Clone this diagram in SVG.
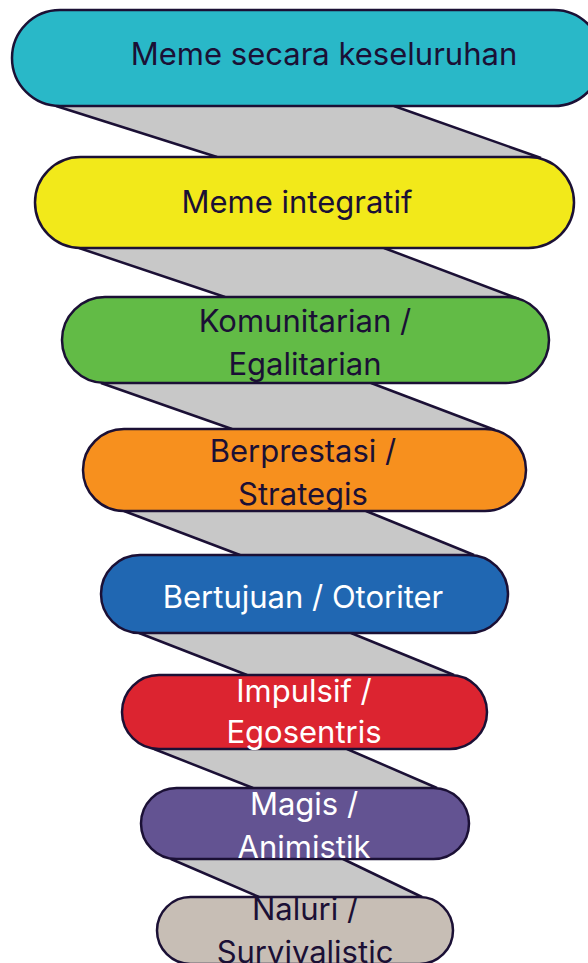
<svg xmlns="http://www.w3.org/2000/svg" width="588" height="963" viewBox="0 0 588 963">
<style>
.n{stroke:#1b1035;stroke-width:2.5}
.c{fill:#c8c8c8;stroke:none}
.e{stroke:#1b1035;stroke-width:2.5;fill:none}
text{font-family:Inter,Lato,"Liberation Sans",sans-serif;font-size:31px;text-anchor:middle;fill:#1b1035;font-variant-ligatures:none}
.w{fill:#ffffff}
</style>
<rect width="588" height="963" fill="#ffffff"/>
<g id="connectors">
<polygon class="c" points="56,106 394,106 541,158 217,157"/>
<line class="e" x1="56" y1="106" x2="217" y2="157"/><line class="e" x1="394" y1="106" x2="541" y2="158"/>
<polygon class="c" points="79,248 384,248 519,299 225,297"/>
<line class="e" x1="79" y1="248" x2="225" y2="297"/><line class="e" x1="384" y1="248" x2="519" y2="299"/>
<polygon class="c" points="101,383 371,383 495,430 232,429"/>
<line class="e" x1="101" y1="383" x2="232" y2="429"/><line class="e" x1="371" y1="383" x2="495" y2="430"/>
<polygon class="c" points="124,511 366,511 474,555 240,555"/>
<line class="e" x1="124" y1="511" x2="240" y2="555"/><line class="e" x1="366" y1="511" x2="474" y2="555"/>
<polygon class="c" points="139,633 351,633 454,675 247,675"/>
<line class="e" x1="139" y1="633" x2="247" y2="675"/><line class="e" x1="351" y1="633" x2="454" y2="675"/>
<polygon class="c" points="154,749 347,749 437,788 253,788"/>
<line class="e" x1="154" y1="749" x2="253" y2="788"/><line class="e" x1="347" y1="749" x2="437" y2="788"/>
<polygon class="c" points="171,859 343,859 422,897 259,897"/>
<line class="e" x1="171" y1="859" x2="259" y2="897"/><line class="e" x1="343" y1="859" x2="422" y2="897"/>
</g>
<g id="node1"><rect class="n" x="12" y="10" width="590" height="96" rx="48" fill="#29b8c8"/><text x="324" y="65">Meme secara keseluruhan</text></g>
<g id="node2"><rect class="n" x="35" y="157" width="539" height="91" rx="45.5" fill="#f2e91a"/><text x="297" y="213">Meme integratif</text></g>
<g id="node3"><rect class="n" x="62" y="297" width="487" height="86" rx="43" fill="#62bb46"/><text x="305" y="332">Komunitarian /</text><text x="305" y="375">Egalitarian</text></g>
<g id="node4"><rect class="n" x="83" y="429" width="443" height="82" rx="41" fill="#f7901e"/><text x="303" y="462">Berprestasi /</text><text x="303" y="505">Strategis</text></g>
<g id="node5"><rect class="n" x="101" y="555" width="407" height="78" rx="39" fill="#2067b2"/><text class="w" x="303" y="608">Bertujuan / Otoriter</text></g>
<g id="node6"><rect class="n" x="122" y="675" width="365" height="74" rx="37" fill="#dc2430"/><text class="w" x="304" y="702">Impulsif /</text><text class="w" x="304" y="743">Egosentris</text></g>
<g id="node7"><rect class="n" x="141" y="788" width="328" height="71" rx="35.5" fill="#635392"/><text class="w" x="304" y="815">Magis /</text><text class="w" x="304" y="858">Animistik</text></g>
<g id="node8"><rect class="n" x="157" y="897" width="296" height="67" rx="33.5" fill="#c7beb5"/><text x="305" y="920">Naluri /</text><text x="305" y="963">Survivalistic</text></g>
</svg>
